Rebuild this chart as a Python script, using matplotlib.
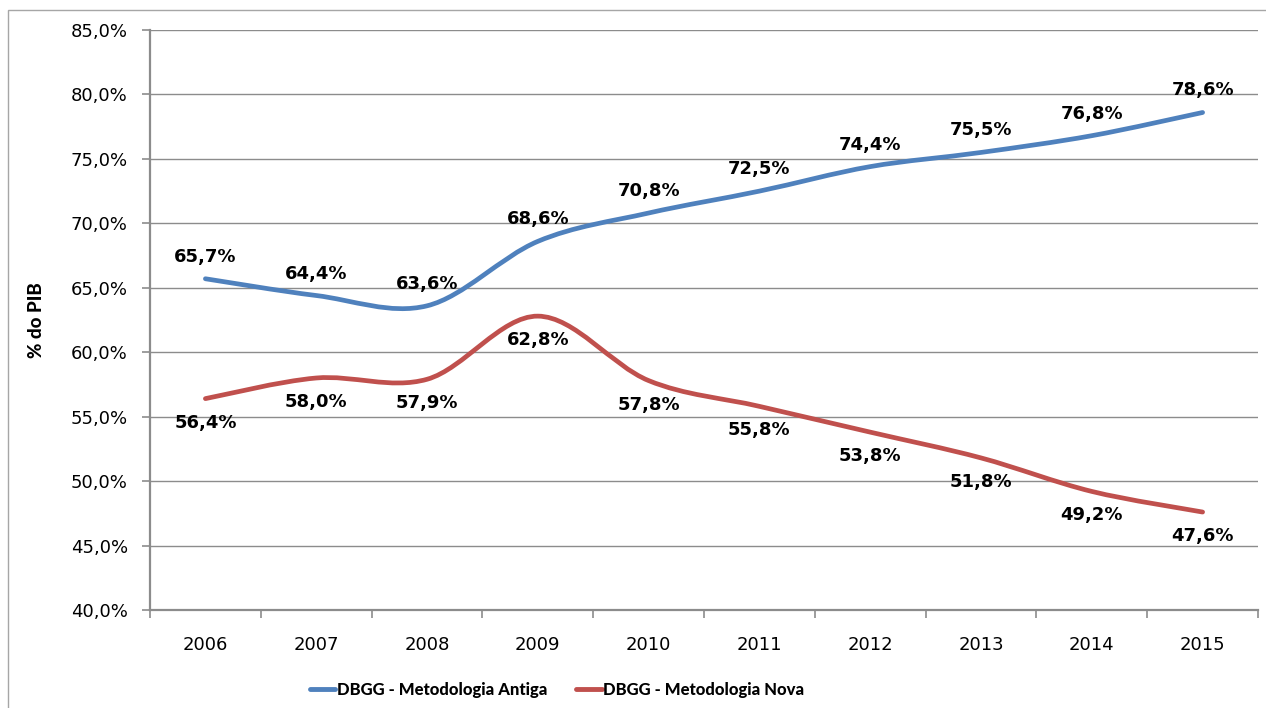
import numpy as np
import matplotlib.pyplot as plt
from matplotlib.path import Path
from matplotlib.patches import PathPatch, Rectangle
from matplotlib.lines import Line2D
from matplotlib.ticker import FuncFormatter, FixedLocator

# --- data (% do PIB) ---
years = ["2006", "2007", "2008", "2009", "2010", "2011", "2012", "2013", "2014", "2015"]
antiga = [65.7, 64.4, 63.6, 68.6, 70.8, 72.5, 74.4, 75.5, 76.8, 78.6]
nova = [56.4, 58.0, 57.9, 62.8, 57.8, 55.8, 53.8, 51.8, 49.2, 47.6]

BLUE = "#4F81BD"
RED = "#C0504D"
GRID = "#8C8C8C"


def smooth_path(xs, ys):
    # cubic bezier through every point (spreadsheet-style smoothed line)
    pts = np.column_stack([xs, ys]).astype(float)
    n = len(pts)
    verts = [pts[0]]
    codes = [Path.MOVETO]
    for i in range(n - 1):
        p0 = pts[i - 1] if i > 0 else pts[i]
        p1 = pts[i]
        p2 = pts[i + 1]
        p3 = pts[i + 2] if i + 2 < n else pts[i + 1]
        c1 = p1 + (p2 - p0) / 6.0
        c2 = p2 - (p3 - p1) / 6.0
        verts += [c1, c2, p2]
        codes += [Path.CURVE4] * 3
    return Path(verts, codes)


fig = plt.figure(figsize=(12.66, 7.08), dpi=100)
ax = fig.add_axes([150 / 1266, 98 / 708, 1108 / 1266, 580 / 708])

x = np.arange(len(years))

for vals, col in [(antiga, BLUE), (nova, RED)]:
    patch = PathPatch(smooth_path(x, vals), facecolor="none", edgecolor=col,
                      lw=3.4, capstyle="round", joinstyle="round", zorder=3)
    ax.add_patch(patch)

# data labels: above for the old methodology, below for the new one
for i, v in enumerate(antiga):
    ax.annotate(f"{v:.1f}%".replace(".", ","), (x[i], v), xytext=(0, 22),
                textcoords="offset pixels", ha="center", va="center",
                fontsize=13, fontweight="bold", color="black", zorder=4)
for i, v in enumerate(nova):
    ax.annotate(f"{v:.1f}%".replace(".", ","), (x[i], v), xytext=(0, -24),
                textcoords="offset pixels", ha="center", va="center",
                fontsize=13, fontweight="bold", color="black", zorder=4)

ax.set_xlim(-0.5, len(years) - 0.5)
ax.set_ylim(40, 85)

ax.set_yticks(np.arange(40, 86, 5))
ax.yaxis.set_major_formatter(FuncFormatter(lambda v, p: f"{v:.1f}%".replace(".", ",")))
ax.yaxis.grid(True, color=GRID, lw=1.0)
ax.set_axisbelow(True)

ax.set_xticks(x)
ax.set_xticklabels(years)
ax.xaxis.set_minor_locator(FixedLocator(np.arange(-0.5, len(years), 1.0)))
ax.tick_params(axis="x", which="major", length=0, pad=19, labelsize=13)
ax.tick_params(axis="x", which="minor", length=6, width=1.2, color=GRID, direction="out")
ax.tick_params(axis="y", length=6, width=1.2, color=GRID, pad=10, labelsize=13)

for s in ["top", "right"]:
    ax.spines[s].set_visible(False)
for s in ["left", "bottom"]:
    ax.spines[s].set_color(GRID)
    ax.spines[s].set_linewidth(1.6)

ax.set_ylabel("% do PIB", fontsize=13.5, fontweight="black", family="Lato")
ax.yaxis.set_label_coords(-0.095, 0.5)

handles = [Line2D([], [], color=BLUE, lw=3.5, solid_capstyle="round"),
           Line2D([], [], color=RED, lw=3.5, solid_capstyle="round")]
fig.legend(handles, ["DBGG - Metodologia Antiga", "DBGG - Metodologia Nova"],
           loc="center", bbox_to_anchor=(557 / 1266, 1 - 690 / 708), ncol=2,
           frameon=False, handlelength=1.55, handletextpad=0.1, columnspacing=1.7,
           prop={"family": "Lato", "weight": "black", "size": 12})

# outer chart border
fig.add_artist(Rectangle((8 / 1266, -0.5), 2, 0.5 + 1 - 10 / 708, transform=fig.transFigure,
                         fill=False, ec="#A6A6A6", lw=1.0))

fig.savefig("out.png", dpi=100)
